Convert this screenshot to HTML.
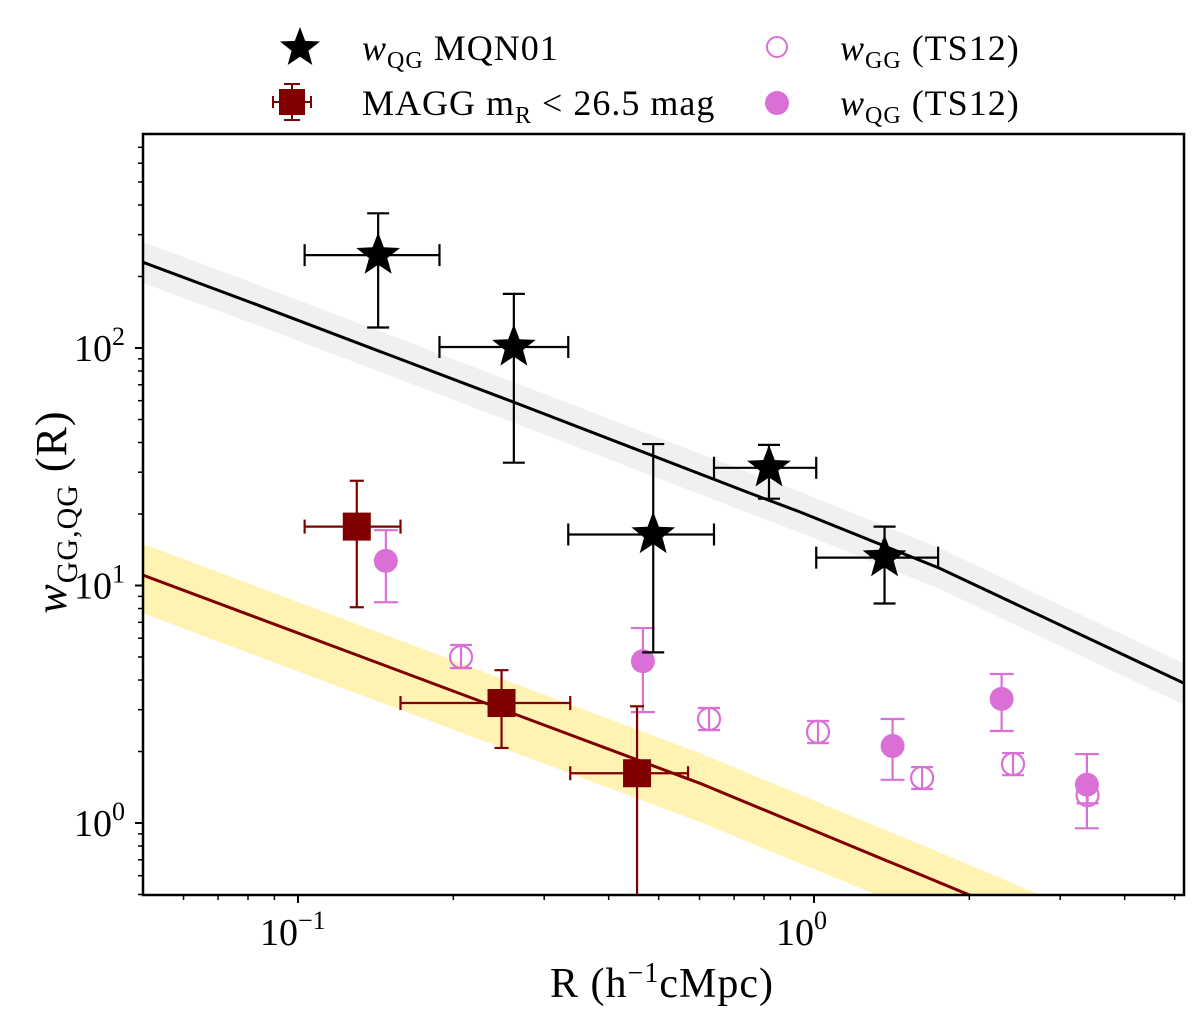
<!DOCTYPE html>
<html><head><meta charset="utf-8"><style>
html,body{margin:0;padding:0;background:#fff}
svg text{font-family:"Liberation Serif",serif;fill:#000}
</style></head><body>
<svg id="chart" width="1200" height="1024" viewBox="0 0 1200 1024" xmlns="http://www.w3.org/2000/svg">
<defs><clipPath id="clip"><rect x="143" y="134" width="1041" height="761"/></clipPath></defs>
<g id="plot" clip-path="url(#clip)"></g>
<g id="axes"></g>
<g id="legend">
  <g>
    <path id="lgStar" d="" fill="#000"/>
    <text x="362" y="60" font-size="36" letter-spacing="1"><tspan font-style="italic">w</tspan><tspan font-size="24" dy="8">QG</tspan><tspan dy="-8"> MQN01</tspan></text>
  </g>
  <g>
    <line x1="292" y1="84" x2="292" y2="120" stroke="#800000" stroke-width="2"/>
    <line x1="284" y1="84" x2="300" y2="84" stroke="#800000" stroke-width="2"/>
    <line x1="284" y1="120" x2="300" y2="120" stroke="#800000" stroke-width="2"/>
    <line x1="273" y1="102" x2="311" y2="102" stroke="#800000" stroke-width="2"/>
    <line x1="273" y1="96" x2="273" y2="108" stroke="#800000" stroke-width="2"/>
    <line x1="311" y1="96" x2="311" y2="108" stroke="#800000" stroke-width="2"/>
    <rect x="279" y="89" width="26" height="26" fill="#800000"/>
    <text x="362" y="115" font-size="36" letter-spacing="1">MAGG m<tspan font-size="24" dy="8">R</tspan><tspan dy="-8"> &lt; 26.5 mag</tspan></text>
  </g>
  <g>
    <circle cx="777" cy="47" r="10" fill="none" stroke="#da70d6" stroke-width="2"/>
    <text x="840" y="60" font-size="36" letter-spacing="1"><tspan font-style="italic">w</tspan><tspan font-size="24" dy="8">GG</tspan><tspan dy="-8"> (TS12)</tspan></text>
  </g>
  <g>
    <circle cx="777" cy="103" r="12" fill="#da70d6"/>
    <text x="840" y="115" font-size="36" letter-spacing="1"><tspan font-style="italic">w</tspan><tspan font-size="24" dy="8">QG</tspan><tspan dy="-8"> (TS12)</tspan></text>
  </g>
</g>
<text x="662" y="997" font-size="42" letter-spacing="1" text-anchor="middle">R (h<tspan font-size="28" dy="-15">−1</tspan><tspan dy="15">cMpc)</tspan></text>
<text transform="translate(66,512) rotate(-90)" font-size="44" letter-spacing="1" text-anchor="middle"><tspan font-style="italic">w</tspan><tspan font-size="30" dy="11">GG,QG</tspan><tspan dy="-11"> (R)</tspan></text>
</svg>
<script>
// ---- data ----
const starR = [0.143, 0.262, 0.488, 0.818, 1.37];
const starW = [246, 101, 16.4, 31.3, 13.1];
const starRlo = [0.103, 0.188, 0.334, 0.64, 1.01];
const starRhi = [0.188, 0.334, 0.64, 1.01, 1.74];
const starWlo = [122, 32.9, 5.23, 23.2, 8.4];
const starWhi = [369, 169, 39.4, 39.1, 17.7];

const sqR = [0.130, 0.248, 0.454];
const sqW = [17.7, 3.2, 1.62];
const sqRlo = [0.103, 0.158, 0.337];
const sqRhi = [0.158, 0.337, 0.57];
const sqWlo = [8.1, 2.07, 0.3];
const sqWhi = [27.6, 4.4, 3.1];

const openR = [0.207, 0.626, 1.018, 1.62, 2.43, 3.39];
const openW = [5.0, 2.74, 2.42, 1.55, 1.77, 1.31];
const openWlo = [4.49, 2.46, 2.17, 1.39, 1.59, 1.21];
const openWhi = [5.62, 3.05, 2.69, 1.72, 1.97, 1.42];

const fillR = [0.148, 0.466, 1.42, 2.31, 3.38];
const fillW = [12.7, 4.8, 2.11, 3.33, 1.45];
const fillWlo = [8.5, 2.93, 1.52, 2.44, 0.95];
const fillWhi = [17.1, 6.62, 2.74, 4.24, 1.95];

const modelR = [0.05, 0.0807, 0.261, 0.751, 0.94, 1.747, 5.21];
const modelW = [230, 156, 59.3, 24.5, 20.4, 11.85, 3.88];
const modelUp = [280, 190, 72, 29.8, 24.8, 14.4, 4.7];
const modelLo = [188, 128, 48.6, 20.1, 16.7, 9.7, 3.15];

const maggR = [0.05, 0.601, 1.99, 5.21];
const maggW = [11.07, 1.47, 0.5, 0.205];
const maggUp = [15.0, 1.97, 0.67, 0.275];
const maggLo = [7.65, 1.01, 0.345, 0.141];

const xTicks = [0.1, 1];
const xTickLabels = ["−1", "0"];
const yTicks = [1, 10, 100];
const yTickLabels = ["0", "1", "2"];

// ---- scales ----
const X = r => 814 + 516 * Math.log10(r);
const Y = w => 823 - 237.5 * Math.log10(w);
const NS = "http://www.w3.org/2000/svg";
const plot = document.getElementById('plot');
const axes = document.getElementById('axes');
function mk(tag, attrs, parent) {
  const e = document.createElementNS(NS, tag);
  for (const k in attrs) e.setAttribute(k, attrs[k]);
  parent.appendChild(e);
  return e;
}
function pts(rs, ws) { return rs.map((r, i) => X(r).toFixed(1) + ',' + Y(ws[i]).toFixed(1)).join(' '); }

let e;
e = mk('polygon', {points: pts(modelR, modelUp) + ' ' + pts(modelR.slice().reverse(), modelLo.slice().reverse()), fill: '#f0f0f0'}, plot);


e = mk('polygon', {points: pts(maggR, maggUp) + ' ' + pts(maggR.slice().reverse(), maggLo.slice().reverse()), fill: '#fff3b3'}, plot);


e = mk('polyline', {points: pts(modelR, modelW), fill: 'none', stroke: '#000', 'stroke-width': 3, 'stroke-linejoin': 'round'}, plot);


e = mk('polyline', {points: pts(maggR, maggW), fill: 'none', stroke: '#800000', 'stroke-width': 3, 'stroke-linejoin': 'round'}, plot);



function errbar(g, x, y, x0, x1, y0, y1, col, cap) {
  if (y0 !== null) {
    mk('line', {x1: x, y1: Y(y0), x2: x, y2: Y(y1), stroke: col, 'stroke-width': 2.2}, g);
    mk('line', {x1: x - cap, y1: Y(y0), x2: x + cap, y2: Y(y0), stroke: col, 'stroke-width': 2.2}, g);
    mk('line', {x1: x - cap, y1: Y(y1), x2: x + cap, y2: Y(y1), stroke: col, 'stroke-width': 2.2}, g);
  }
  if (x0 !== null) {
    mk('line', {x1: X(x0), y1: y, x2: X(x1), y2: y, stroke: col, 'stroke-width': 2.2}, g);
    mk('line', {x1: X(x0), y1: y - cap, x2: X(x0), y2: y + cap, stroke: col, 'stroke-width': 2.2}, g);
    mk('line', {x1: X(x1), y1: y - cap, x2: X(x1), y2: y + cap, stroke: col, 'stroke-width': 2.2}, g);
  }
}
function starPath(cx, cy, R) {
  let d = '';
  for (let i = 0; i < 10; i++) {
    const a = -Math.PI / 2 + i * Math.PI / 5;
    const r = i % 2 ? R * 0.42 : R;
    d += (i ? 'L' : 'M') + (cx + r * Math.cos(a)).toFixed(1) + ',' + (cy + r * Math.sin(a)).toFixed(1);
  }
  return d + 'Z';
}
document.getElementById('lgStar').setAttribute('d', starPath(300, 48, 21));

openR.forEach((r, i) => {
  const g = mk('g', {}, plot);
  
  
  const x = X(r), y = Y(openW[i]);
  errbar(g, x, y, null, null, openWlo[i], openWhi[i], '#da70d6', 11);
  mk('circle', {cx: x, cy: y, r: 11, fill: 'none', stroke: '#da70d6', 'stroke-width': 2.2}, g);
});
fillR.forEach((r, i) => {
  const g = mk('g', {}, plot);
  
  
  const x = X(r), y = Y(fillW[i]);
  errbar(g, x, y, null, null, fillWlo[i], fillWhi[i], '#da70d6', 12);
  mk('circle', {cx: x, cy: y, r: 12, fill: '#da70d6'}, g);
});
sqR.forEach((r, i) => {
  const g = mk('g', {}, plot);
  
  
  const x = X(r), y = Y(sqW[i]);
  errbar(g, x, y, sqRlo[i], sqRhi[i], sqWlo[i], sqWhi[i], '#800000', 7);
  mk('rect', {x: x - 14, y: y - 14, width: 28, height: 28, fill: '#800000'}, g);
});
starR.forEach((r, i) => {
  const g = mk('g', {}, plot);
  
  
  const x = X(r), y = Y(starW[i]);
  errbar(g, x, y, starRlo[i], starRhi[i], starWlo[i], starWhi[i], '#000', 11);
  mk('path', {d: starPath(x, y, 23), fill: '#000'}, g);
});

e = mk('rect', {x: 143, y: 134, width: 1041, height: 761, fill: 'none', stroke: '#000', 'stroke-width': 2.5}, axes);


for (let d = -2; d <= 0; d++) for (let m = 1; m <= 9; m++) {
  const r = m * Math.pow(10, d), x = X(r);
  if (x < 143 || x > 1184) continue;
  mk('line', {x1: x, y1: 895, x2: x, y2: 895 + (m === 1 ? 8 : 5), stroke: '#000', 'stroke-width': m === 1 ? 2 : 1.5}, axes);
}
xTicks.forEach((t, i) => {
  const x = X(t);
  e = mk('text', {x: x - 38, y: 945, 'font-size': 38}, axes);
  
  
  e.innerHTML = '10<tspan font-size="26" dy="-16">' + xTickLabels[i] + '</tspan>';
});
for (let d = -1; d <= 2; d++) for (let m = 1; m <= 9; m++) {
  const w = m * Math.pow(10, d), y = Y(w);
  if (y < 134 || y > 895) continue;
  mk('line', {x1: 143, y1: y, x2: 143 - (m === 1 ? 8 : 5), y2: y, stroke: '#000', 'stroke-width': m === 1 ? 2 : 1.5}, axes);
}
yTicks.forEach((t, i) => {
  const y = Y(t);
  e = mk('text', {x: 74, y: y + 13, 'font-size': 38}, axes);
  
  
  e.innerHTML = '10<tspan font-size="26" dy="-16">' + yTickLabels[i] + '</tspan>';
});
</script>
</body></html>
